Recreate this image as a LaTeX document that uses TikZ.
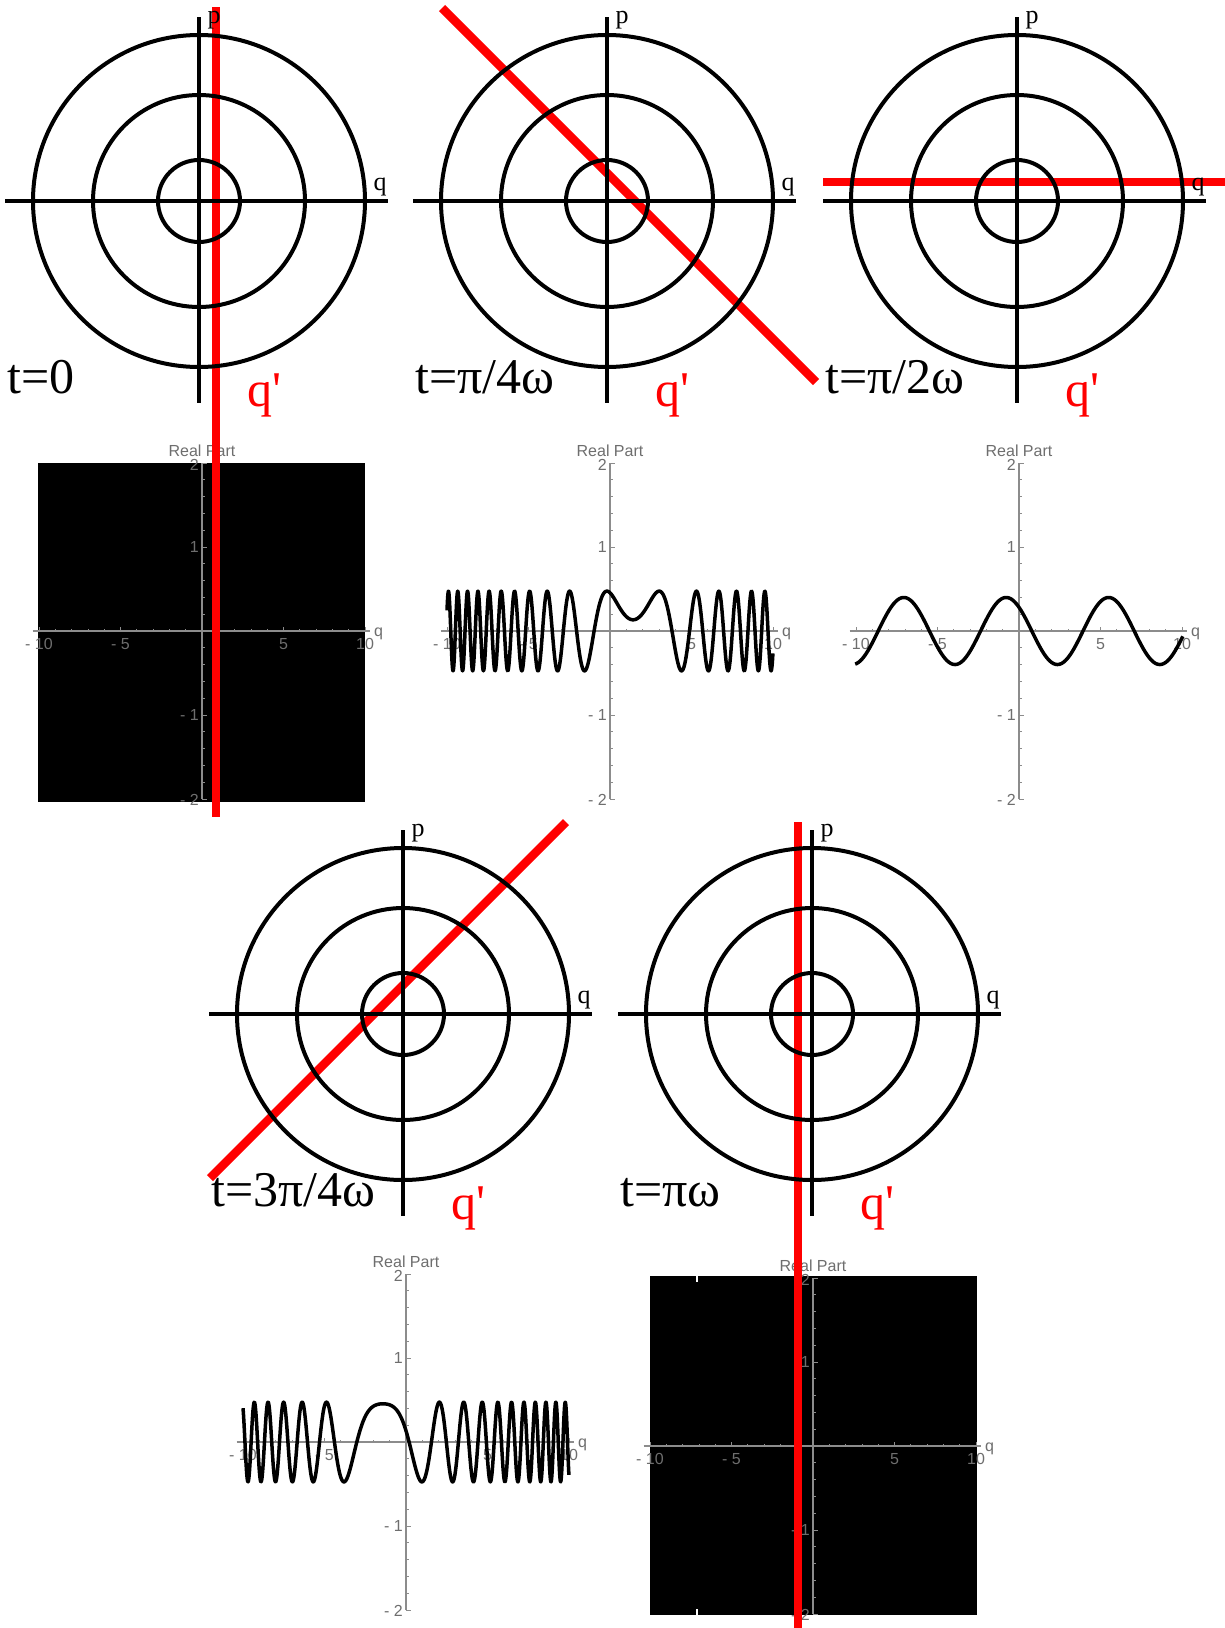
\documentclass[tikz,border=0pt]{standalone}
\usepackage{fontspec}
\newfontfamily\lblfont{Liberation Serif}
\newfontfamily\plotfont{Liberation Sans}
\definecolor{axgray}{RGB}{140,140,140}
\definecolor{labgray}{RGB}{110,110,110}
\definecolor{qred}{RGB}{255,0,0}
\tikzset{
  orbit/.style={line width=4pt, black},
  blkaxis/.style={line width=4pt, black},
  redline/.style={line width=8.5pt, qred},
  plab/.style={font=\lblfont\fontsize{26}{26}\selectfont, inner sep=0pt},
  tlab/.style={font=\lblfont\fontsize{50}{50}\selectfont, inner sep=0pt, anchor=base west},
  qlab/.style={tlab, text=qred},
  gaxis/.style={line width=1.1pt, axgray},
  gtick/.style={line width=0.8pt, axgray},
  ticklab/.style={font=\plotfont\fontsize{16}{16}\selectfont, text=labgray, inner sep=0pt},
  curve/.style={line width=3.5pt, black, line join=round}
}
% phase-space diagram: #1 name, #2 cx, #3 cy, #4 time label
\newcommand{\phasediagram}[4]{%
\begin{scope}[shift={(#2,#3)}]
  \coordinate (#1c) at (0,0);
  \draw[orbit] (#1c) circle[radius=41pt];
  \draw[orbit] (#1c) circle[radius=106pt];
  \draw[orbit] (#1c) circle[radius=166pt];
  \draw[blkaxis] (-194,0) coordinate (#1ql) -- (189,0) coordinate (#1qr);
  \draw[blkaxis] (0,-184) coordinate (#1pt) -- (0,202) coordinate (#1pb);
  \node[plab] (#1p) at (15,-181) {p};
  \node[plab] (#1q) at (181,-14) {q};
  \node[tlab] (#1t) at (-192,192) {#4};
  \node[qlab] (#1qp) at (48,205) {q'};
\end{scope}}
% plot frame: #1 name, #2 ox, #3 oy
\newcommand{\plotframe}[3]{%
\begin{scope}[shift={(#2,#3)}]
  \draw[gaxis] (-169.5,0) coordinate (#1xl) -- (168,0) coordinate (#1xr);
  \draw[gaxis] (0,168) coordinate (#1yb) -- (0,-168) coordinate (#1yt);
  \foreach \i in {-10,...,10} {\draw[gtick] (\i*16.3,0) -- (\i*16.3,-2.5);}
  \foreach \i in {-10,-5,5,10} {\draw[gtick] (\i*16.3,0) -- (\i*16.3,-4.5);}
  \foreach \j in {-10,...,10} {\draw[gtick] (0,\j*16.8) -- (2.5,\j*16.8);}
  \foreach \j in {-2,-1,1,2} {\draw[gtick] (0,\j*84) -- (4.5,\j*84);}
  \node[ticklab, anchor=base] (#1xa) at (-163,18.5) {- 10};
  \node[ticklab, anchor=base] (#1xb) at (-81.5,18.5) {- 5};
  \node[ticklab, anchor=base] (#1xc) at (81.5,18.5) {5};
  \node[ticklab, anchor=base] (#1xd) at (163,18.5) {10};
  \node[ticklab, anchor=base east] (#1ya) at (-3,-166+5.7) {2};
  \node[ticklab, anchor=base east] (#1yb) at (-3,-84+5.7) {1};
  \node[ticklab, anchor=base east] (#1yc) at (-3,84+5.7) {- 1};
  \node[ticklab, anchor=base east] (#1yd) at (-3,169+5.7) {- 2};
  \node[ticklab, anchor=base] (#1title) at (0,-175) {Real Part};
  \node[ticklab, anchor=base west] (#1q) at (172,5.5) {q};
\end{scope}}
\begin{document}
\begin{tikzpicture}[x=1pt,y=-1pt]
\fill[white] (0,0) rectangle (1225,1628);
\useasboundingbox (0,0) rectangle (1225,1628);

% ---- plots ----
\fill[black] (38,463) rectangle (365,802);
\plotframe{pa}{202}{631}
\plotframe{pb}{610}{631}
\plotframe{pc}{1019}{631}
\plotframe{pd}{406}{1442}
\fill[black] (650,1276) rectangle (977,1615);
\fill[white] (696,1276) rectangle (698,1282);
\fill[white] (696,1609) rectangle (698,1615);
\plotframe{pe}{813}{1446}

\begin{scope}[shift={(610,631)}]
  \draw[curve] plot[domain=-10:10, samples=1400]
    ({\x*16.3}, {-84*0.4743*cos(deg((\x*\x+1)/2 - 1.41421*\x - 0.785398))});
\end{scope}
\begin{scope}[shift={(1019,631)}]
  \draw[curve] plot[domain=-10.05:10.05, samples=600]
    ({\x*16.3}, {-84*0.3989*cos(deg(\x + 0.785398))});
\end{scope}
\begin{scope}[shift={(406,1442)}]
  \draw[curve] plot[domain=-10:10, samples=1400]
    ({\x*16.3}, {-84*0.4743*cos(deg(-(\x*\x+1)/2 - 1.41421*\x - 0.785398))});
\end{scope}

% ---- red q' lines ----
\coordinate (ra1) at (216,7);    \coordinate (ra2) at (216,817);
\coordinate (rb1) at (442,8);    \coordinate (rb2) at (816,382);
\coordinate (rc1) at (823,182);  \coordinate (rc2) at (1225,182);
\coordinate (rd1) at (210,1178); \coordinate (rd2) at (566,822);
\coordinate (re1) at (798,822);  \coordinate (re2) at (798,1628);
\draw[redline] (ra1) -- (ra2);
\draw[redline] (rb1) -- (rb2);
\draw[redline] (rc1) -- (rc2);
\draw[redline] (rd1) -- (rd2);
\draw[redline] (re1) -- (re2);

% ---- phase-space diagrams ----
\phasediagram{da}{199}{201}{t=0}
\phasediagram{db}{607}{201}{t=π/4ω}
\phasediagram{dc}{1017}{201}{t=π/2ω}
\phasediagram{dd}{403}{1014}{t=3π/4ω}
\phasediagram{de}{812}{1014}{t=πω}
\end{tikzpicture}
\end{document}
